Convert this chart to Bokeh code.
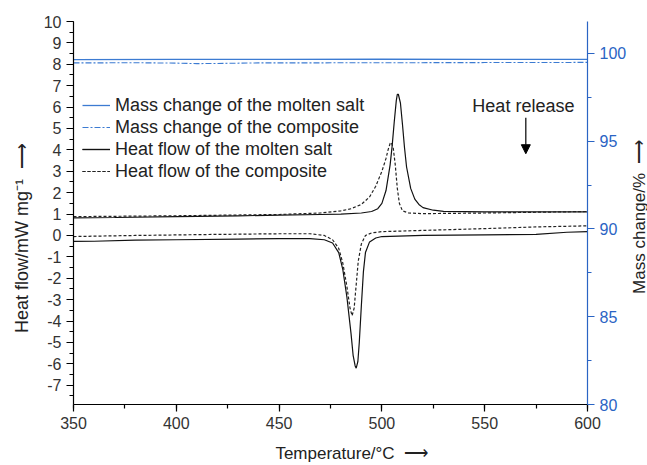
import math
from bokeh.plotting import figure
from bokeh.layouts import row
from bokeh.models import (Range1d, LinearAxis, Legend, LegendItem, Label, Arrow,
                          NormalHead, SingleIntervalTicker)
from bokeh.embed import file_html
from bokeh.resources import INLINE

# ---------------- data ----------------
# Heat flow of the molten salt, cooling (upper, heat release peak)
t_salt_up = [350, 370, 400, 430, 450, 470, 480, 490, 495, 498, 500, 502, 504, 505, 506,
             507, 507.5, 508, 509, 510, 511, 512, 514, 516, 518, 520, 525, 530, 550, 575, 600]
h_salt_up = [0.82, 0.84, 0.88, 0.92, 0.95, 0.98, 1.0, 1.05, 1.12, 1.25, 1.5, 2.1, 3.3, 4.2, 5.3,
             6.3, 6.6, 6.6, 6.2, 5.2, 4.1, 3.2, 2.2, 1.7, 1.45, 1.3, 1.18, 1.13, 1.1, 1.1, 1.1]
# Heat flow of the molten salt, heating (lower, melting dip)
t_salt_lo = [350, 360, 380, 400, 430, 450, 465, 472, 476, 479, 481, 483, 485, 486, 487,
             487.5, 488.3, 489, 490, 491, 492, 494, 497, 500, 520, 550, 575, 590, 600]
h_salt_lo = [-0.28, -0.27, -0.22, -0.2, -0.17, -0.15, -0.15, -0.2, -0.35, -0.8, -1.6, -2.9, -4.6, -5.6, -6.1,
             -6.2, -5.9, -5.0, -3.3, -1.7, -0.8, -0.3, -0.12, -0.05, 0.0, 0.03, 0.05, 0.15, 0.18]
# Heat flow of the composite, cooling (upper)
t_comp_up = [350, 400, 450, 470, 480, 485, 490, 494, 497, 500, 502, 503, 504, 504.5, 505.5,
             506.5, 507.5, 508.5, 510, 513, 520, 550, 600]
h_comp_up = [0.88, 0.92, 0.98, 1.05, 1.15, 1.25, 1.45, 1.8, 2.3, 3.0, 3.6, 4.0, 4.3, 4.35, 4.1,
             3.3, 2.2, 1.5, 1.15, 1.05, 1.02, 1.05, 1.12]
# Heat flow of the composite, heating (lower)
t_comp_lo = [350, 380, 420, 450, 465, 472, 476, 479, 481, 483, 484.5, 485.5, 486.5, 487.5,
             488.5, 490, 492, 495, 500, 525, 550, 575, 600]
h_comp_lo = [-0.05, 0.0, 0.05, 0.08, 0.08, 0.0, -0.2, -0.6, -1.3, -2.4, -3.4, -3.75, -3.4, -2.3,
             -1.2, -0.4, 0.0, 0.12, 0.18, 0.25, 0.32, 0.4, 0.45]
# Mass change (%)
t_mass_salt = [350, 400, 450, 500, 550, 600]
m_mass_salt = [99.65, 99.66, 99.66, 99.67, 99.66, 99.66]
t_mass_comp = [350, 380, 400, 410, 420, 440, 500, 550, 600]
m_mass_comp = [99.46, 99.47, 99.45, 99.42, 99.43, 99.46, 99.47, 99.48, 99.49]

left_ticks = list(range(-7, 11))

legend_labels = ["Mass change of the molten salt", "Mass change of the composite",
                 "Heat flow of the molten salt", "Heat flow of the composite"]

FONT = "Liberation Sans"
BLUE = "#2a64c4"
LINEBLUE = "#3c7bd2"
NB = "\u00a0"

W, H = 629, 465
p = figure(width=W, height=H, x_range=Range1d(350, 600), y_range=Range1d(-7.9, 10),
           output_backend="svg", toolbar_location=None,
           min_border_left=73, min_border_right=40, min_border_top=21, min_border_bottom=61)
p.outline_line_color = None
p.xgrid.visible = False
p.ygrid.visible = False
p.background_fill_color = "white"
p.border_fill_color = "white"

p.extra_y_ranges = {"mass": Range1d(80, 101.82)}

def style_axis(ax, color, label_color):
    ax.axis_line_color = color
    ax.major_tick_line_color = color
    ax.minor_tick_line_color = color
    ax.major_tick_in = 0
    ax.major_tick_out = 7
    ax.minor_tick_in = 0
    ax.minor_tick_out = 4
    ax.major_label_text_font = FONT
    ax.major_label_text_font_size = "16px"
    ax.major_label_text_color = label_color
    ax.axis_line_width = 1.2
    ax.major_tick_line_width = 1.2
    ax.minor_tick_line_width = 1.2
    ax.axis_label_text_font = FONT
    ax.axis_label_text_font_style = "normal"
    ax.axis_label_text_color = "#222222"

xax = p.xaxis[0]
yax = p.yaxis[0]
xax.ticker = SingleIntervalTicker(interval=50, num_minor_ticks=2)
yax.ticker = SingleIntervalTicker(interval=1, num_minor_ticks=2)
style_axis(xax, "black", "#333333")
style_axis(yax, "black", "#333333")
xax.major_label_standoff = 5
yax.major_label_standoff = 5
yax.major_label_overrides = {v: str(v) for v in left_ticks}

xax.axis_label = NB * 9 + "Temperature/\u00b0C" + NB * 2 + "\u27f6"
xax.axis_label_text_font_size = "17px"
xax.axis_label_standoff = 12

yax.axis_label = "Heat flow/mW mg\u207b\u00b9" + NB * 2 + "\u27f6" + NB * 10
yax.axis_label_text_font_size = "18px"
yax.axis_label_standoff = 9

rax = LinearAxis(y_range_name="mass", ticker=SingleIntervalTicker(interval=5, num_minor_ticks=2))
style_axis(rax, BLUE, BLUE)
rax.major_label_standoff = 5
p.add_layout(rax, "right")

r_ms = p.line(t_mass_salt, m_mass_salt, y_range_name="mass", line_color=LINEBLUE, line_width=1.3)
r_mc = p.line(t_mass_comp, m_mass_comp, y_range_name="mass", line_color=LINEBLUE, line_width=1.1,
              line_dash="6 2 2 2")
r_su = p.line(t_salt_up, h_salt_up, line_color="#111111", line_width=1.2)
r_sl = p.line(t_salt_lo, h_salt_lo, line_color="#111111", line_width=1.2)
r_cu = p.line(t_comp_up, h_comp_up, line_color="#222222", line_width=1.2, line_dash="3 2")
r_cl = p.line(t_comp_lo, h_comp_lo, line_color="#222222", line_width=1.2, line_dash="3 2")

legend = Legend(items=[
    LegendItem(label=legend_labels[0], renderers=[r_ms]),
    LegendItem(label=legend_labels[1], renderers=[r_mc]),
    LegendItem(label=legend_labels[2], renderers=[r_su, r_sl]),
    LegendItem(label=legend_labels[3], renderers=[r_cu, r_cl]),
], location=(9, 222), background_fill_alpha=0, border_line_color=None,
   label_text_font=FONT, label_text_font_size="18px", label_text_color="#222222",
   glyph_width=28, glyph_height=22, label_height=22, spacing=0, padding=0, margin=0,
   label_standoff=5)
p.add_layout(legend)

# annotation "Heat release" with arrow
p.add_layout(Label(x=544, y=6.06, text="Heat release", text_font=FONT, text_font_size="18px",
                   text_color="#222222", text_baseline="middle", text_align="left"))
p.add_layout(Arrow(end=NormalHead(size=9, fill_color="black", line_color="black"),
                   x_start=570, y_start=5.5, x_end=570, y_end=3.82, line_width=1.2))

# narrow strip on the right holding the right-axis title (reads bottom to top)
SW = 18
p2 = figure(width=SW, height=H, x_range=Range1d(0, SW), y_range=Range1d(0, H),
            output_backend="svg", toolbar_location=None, x_axis_type=None, y_axis_type=None,
            min_border_left=0, min_border_right=0, min_border_top=0, min_border_bottom=0)
p2.outline_line_color = None
p2.xgrid.visible = False
p2.ygrid.visible = False
p2.border_fill_color = "white"
p2.background_fill_color = "white"
p2.add_layout(Label(x=SW / 2 + 1, y=H - 237, text="Mass change/%" + NB * 2 + "\u27f6",
                    angle=math.pi / 2, text_font=FONT, text_font_size="17px",
                    text_color="#222222", text_align="center", text_baseline="middle"))

layout = row(p, p2, spacing=0)
open("out.html", "w").write(file_html(layout, INLINE))
